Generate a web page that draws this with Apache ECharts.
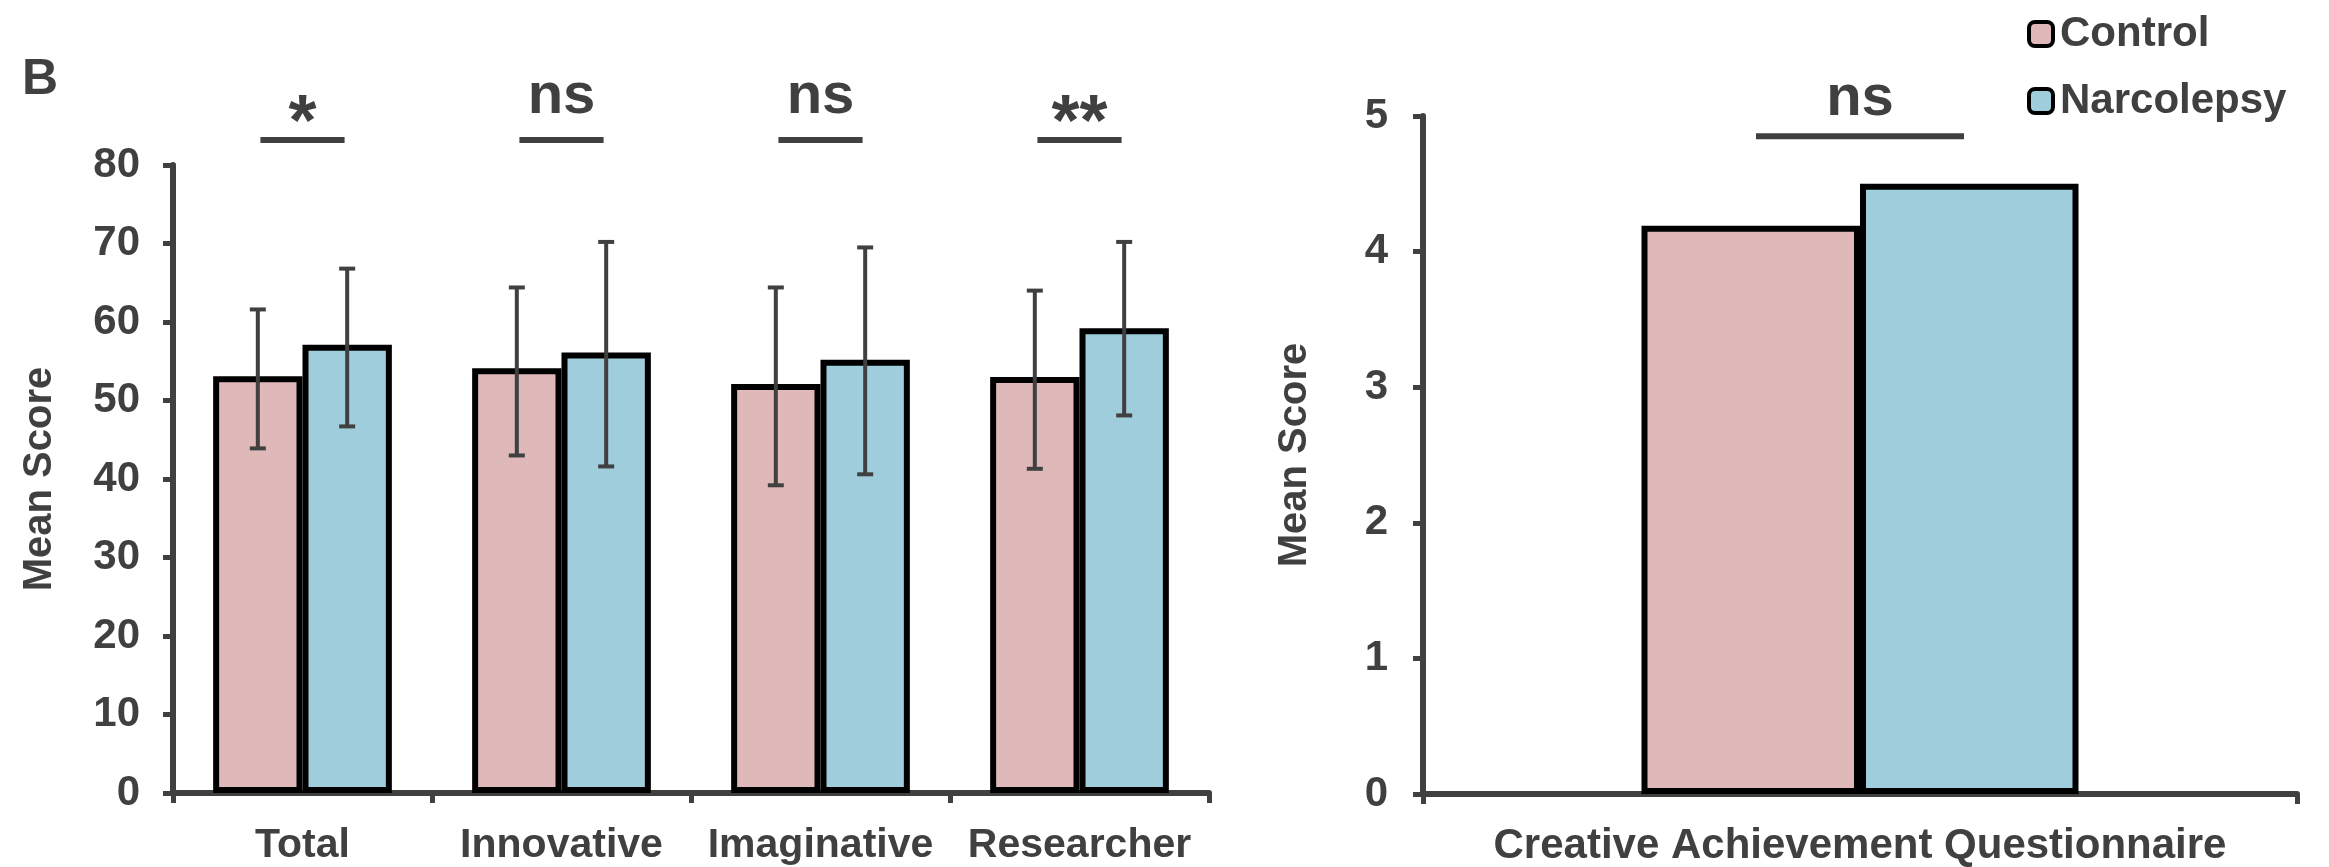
<!DOCTYPE html>
<html>
<head>
<meta charset="utf-8">
<script src="https://cdn.jsdelivr.net/npm/echarts@6/dist/echarts.min.js"></script>
<style>
html,body{margin:0;padding:0;background:#fff;}
#main{width:2329px;height:867px;}
</style>
</head>
<body>
<div id="main"></div>
<script>
// ---- data ----
const categories = ['Total', 'Innovative', 'Imaginative', 'Researcher'];
const controlMean = [53.1, 54.1, 52.1, 53.0];
const controlLow = [43.9, 43.0, 39.2, 41.3];
const controlHigh = [61.6, 64.4, 64.4, 64.0];
const narcoMean = [57.1, 56.1, 55.2, 59.2];
const narcoLow = [46.7, 41.6, 40.6, 48.1];
const narcoHigh = [66.8, 70.2, 69.5, 70.2];
const sigLabels = ['*', 'ns', 'ns', '**'];
const sigLevel = 83.2;

const caqCategories = ['Creative Achievement Questionnaire'];
const caqControl = [4.19];
const caqNarco = [4.50];
const caqSigLabels = ['ns'];
const caqSigLevel = 4.85;

const yTicksLeft = {min: 0, max: 80, interval: 10};
const yTicksRight = {min: 0, max: 5, interval: 1};

// ---- styling ----
const TXT = '#404040';
const FONT = '"Liberation Sans", Arial, Helvetica, sans-serif';
const PINK = '#dfb9b9';
const BLUE = '#9fcddb';
const GAP_L = 0.31, GAP_R = 0.50;

const chart = echarts.init(document.getElementById('main'), null, {renderer: 'canvas'});

function errData() {
  const d = [];
  categories.forEach((c, i) => {
    d.push([i, controlLow[i], controlHigh[i], 0]);
    d.push([i, narcoLow[i], narcoHigh[i], 1]);
  });
  return d;
}

// baseOff: distance from line centre to the text baseline
function sigRender(spanFrac, labels, baseOff) {
  return function (params, api) {
    const i = api.value(0);
    const p = api.coord([i, api.value(1)]);
    const band = api.size([1, 0])[0];
    const half = band * spanFrac / 2;
    const lab = labels[i];
    const star = lab.indexOf('*') >= 0;
    const size = star ? 72 : 58;
    const base = p[1] - baseOff;
    const ymid = star ? base + 33 - 0.35 * size : base - 0.35 * size;
    return {
      type: 'group',
      children: [
        {type: 'line', shape: {x1: p[0] - half, y1: p[1], x2: p[0] + half, y2: p[1]},
         style: {stroke: TXT, lineWidth: 6}},
        {type: 'text', x: p[0], y: ymid,
         style: {text: lab, fill: TXT, font: 'bold ' + size + 'px ' + FONT,
                 textAlign: 'center', textVerticalAlign: 'middle'}}
      ]
    };
  };
}

const axisLineStyle = {lineStyle: {color: TXT, width: 6}};
const tickStyle = {show: true, length: 10, lineStyle: {color: TXT, width: 5}};
const labelStyle = {color: TXT, fontWeight: 'bold', fontFamily: FONT};

const option = {
  animation: false,
  backgroundColor: '#fff',
  textStyle: {fontFamily: FONT},
  graphic: [{
    type: 'text', left: 22, top: 55,
    style: {text: 'B', font: 'bold 50px ' + FONT, fill: TXT}
  }],
  legend: {
    data: ['Control', 'Narcolepsy'],
    orient: 'vertical', left: 2022, top: 8,
    itemWidth: 24, itemHeight: 24, itemGap: 25,
    icon: 'roundRect',
    itemStyle: {borderColor: '#000', borderWidth: 4},
    textStyle: {color: TXT, fontSize: 42, fontWeight: 'bold', fontFamily: FONT, padding: [0, 0, 0, 2]}
  },
  grid: [
    {left: 173, right: 2329 - 1209, top: 165, bottom: 867 - 793},
    {left: 1423, right: 2329 - 2297, top: 116, bottom: 867 - 794}
  ],
  xAxis: [
    {type: 'category', gridIndex: 0, data: categories,
     axisLine: axisLineStyle, axisTick: tickStyle,
     axisLabel: Object.assign({fontSize: 41, margin: 32, interval: 0}, labelStyle)},
    {type: 'category', gridIndex: 1, data: caqCategories,
     axisLine: axisLineStyle, axisTick: tickStyle,
     axisLabel: Object.assign({fontSize: 42, margin: 31, interval: 0}, labelStyle)}
  ],
  yAxis: [
    {type: 'value', gridIndex: 0, min: yTicksLeft.min, max: yTicksLeft.max, interval: yTicksLeft.interval,
     name: 'Mean Score', nameLocation: 'middle', nameGap: 113,
     nameTextStyle: {fontSize: 40, fontWeight: 'bold', color: TXT, fontFamily: FONT},
     axisLine: Object.assign({show: true}, axisLineStyle), axisTick: tickStyle, splitLine: {show: false},
     axisLabel: Object.assign({fontSize: 42, margin: 33}, labelStyle)},
    {type: 'value', gridIndex: 1, min: yTicksRight.min, max: yTicksRight.max, interval: yTicksRight.interval,
     name: 'Mean Score', nameLocation: 'middle', nameGap: 108,
     nameTextStyle: {fontSize: 40, fontWeight: 'bold', color: TXT, fontFamily: FONT},
     axisLine: Object.assign({show: true}, axisLineStyle), axisTick: tickStyle, splitLine: {show: false},
     axisLabel: Object.assign({fontSize: 42, margin: 35}, labelStyle)}
  ],
  series: [
    {name: 'Control', type: 'bar', xAxisIndex: 0, yAxisIndex: 0, data: controlMean,
     barGap: '0%', barCategoryGap: (GAP_L * 100) + '%',
     itemStyle: {color: PINK, borderColor: '#000', borderWidth: 6}},
    {name: 'Narcolepsy', type: 'bar', xAxisIndex: 0, yAxisIndex: 0, data: narcoMean,
     barGap: '0%', barCategoryGap: (GAP_L * 100) + '%',
     itemStyle: {color: BLUE, borderColor: '#000', borderWidth: 6}},
    {name: 'Control', type: 'bar', xAxisIndex: 1, yAxisIndex: 1, data: caqControl,
     barGap: '0%', barCategoryGap: (GAP_R * 100) + '%',
     itemStyle: {color: PINK, borderColor: '#000', borderWidth: 6}},
    {name: 'Narcolepsy', type: 'bar', xAxisIndex: 1, yAxisIndex: 1, data: caqNarco,
     barGap: '0%', barCategoryGap: (GAP_R * 100) + '%',
     itemStyle: {color: BLUE, borderColor: '#000', borderWidth: 6}},
    {name: 'err', type: 'custom', xAxisIndex: 0, yAxisIndex: 0, z: 10,
     data: errData(),
     renderItem: function (params, api) {
       const i = api.value(0);
       const lo = api.coord([i, api.value(1)]);
       const hi = api.coord([i, api.value(2)]);
       const band = api.size([1, 0])[0];
       const bw = band * (1 - GAP_L) / 2;
       const x = lo[0] + (api.value(3) === 0 ? -bw / 2 : bw / 2);
       const cap = 8;
       const st = {stroke: TXT, lineWidth: 4};
       return {type: 'group', children: [
         {type: 'line', shape: {x1: x, y1: lo[1], x2: x, y2: hi[1]}, style: st},
         {type: 'line', shape: {x1: x - cap, y1: lo[1], x2: x + cap, y2: lo[1]}, style: st},
         {type: 'line', shape: {x1: x - cap, y1: hi[1], x2: x + cap, y2: hi[1]}, style: st}
       ]};
     }},
    {name: 'sigL', type: 'custom', xAxisIndex: 0, yAxisIndex: 0, z: 10, clip: false,
     data: categories.map((c, i) => [i, sigLevel]),
     renderItem: sigRender(0.325, sigLabels, 23)},
    {name: 'sigR', type: 'custom', xAxisIndex: 1, yAxisIndex: 1, z: 10, clip: false,
     data: caqCategories.map((c, i) => [i, caqSigLevel]),
     renderItem: sigRender(0.238, caqSigLabels, 17)}
  ]
};
chart.setOption(option);
</script>
</body>
</html>
